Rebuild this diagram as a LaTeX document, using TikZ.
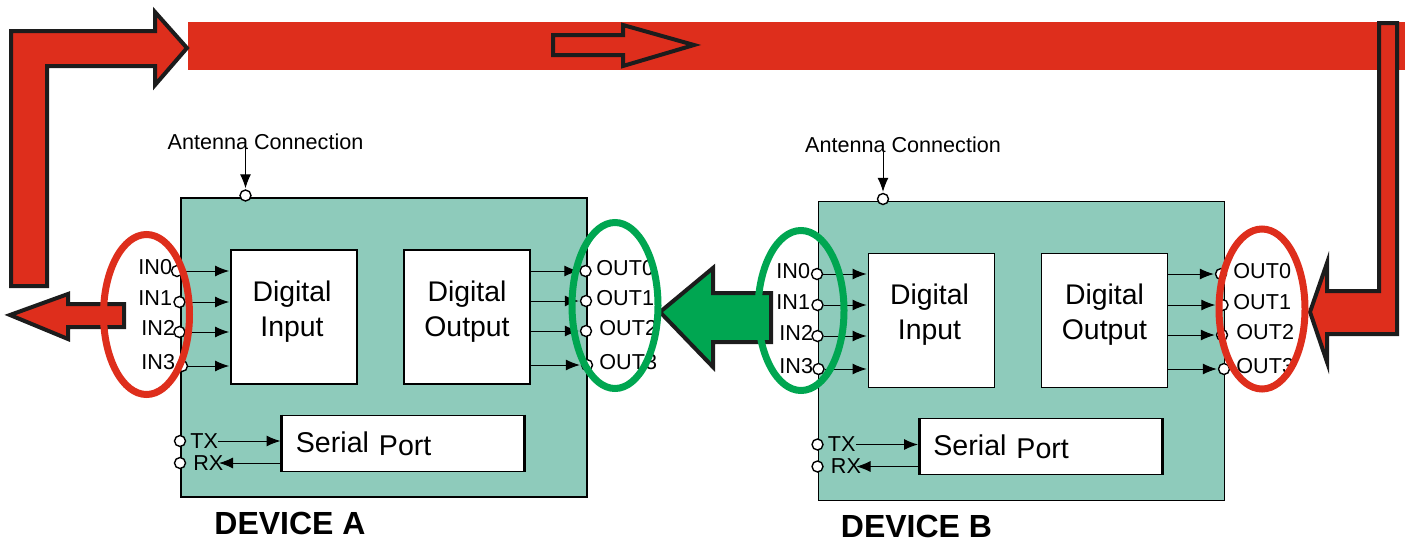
\documentclass[tikz,border=0pt]{standalone}
\usepackage{fontspec}
\setmainfont{Liberation Sans}
\usetikzlibrary{arrows.meta,positioning,shapes.geometric}
\definecolor{LinkRed}{RGB}{222,46,28}
\definecolor{LinkGreen}{RGB}{0,166,81}
\definecolor{BoardTeal}{RGB}{142,203,187}
\definecolor{EdgeBlack}{RGB}{28,28,28}
\tikzset{
    board/.style={draw=black, fill=BoardTeal, line width=0.9pt, minimum width=203pt, minimum height=149.5pt, inner sep=0pt},
    block/.style={draw=black, fill=white, line width=0.9pt, minimum width=63pt, minimum height=67pt, inner sep=0pt},
    blocktext/.style={align=center, font=\fontsize{14.2}{17.5}\selectfont, inner sep=0pt},
    serialbox/.style={draw=black, fill=white, line width=0.5pt, minimum width=121pt, minimum height=28pt, inner sep=0pt},
    pin/.style={circle, draw=black, fill=white, line width=0.7pt, minimum size=5.5pt, inner sep=0pt},
    pinlabel/.style={font=\fontsize{10.8}{13}\selectfont, inner sep=0pt},
    sig/.style={-{Latex[length=7pt,width=5.5pt]}, line width=0.5pt, shorten >=0.5pt},
    loop/.style={ellipse, draw, line width=3.5pt, minimum width=43pt, minimum height=80pt, inner sep=0pt},
    bigarrow/.style={draw=EdgeBlack, line width=2pt, line join=miter, miter limit=10}
}
\begin{document}
\begin{tikzpicture}[x=0.5pt, y=-0.5pt]
    \useasboundingbox (0,0) rectangle (1408,541);

    % Band
    \fill[LinkRed] (188,22) rectangle (1405,70);
    \draw[bigarrow, fill=LinkRed] (553,35) -- (623,35) -- (623,25) -- (694,45) -- (623,66) -- (623,55) -- (553,55) -- cycle;

    % Red arrows
    \draw[bigarrow, fill=LinkRed] (11,31) -- (155,31) -- (155,12) -- (187,48) -- (155,85) -- (155,66) -- (47,66) -- (47,286) -- (11,286) -- cycle;
    \draw[bigarrow, fill=LinkRed] (10,315) -- (68,294) -- (68,304) -- (124,304) -- (124,327) -- (68,327) -- (68,339) -- cycle;

    % Devices
    \foreach \dev/\dx/\dy/\nameshift in {A/0/0/0, B/637.5/3.5/-11} {
        \begin{scope}[shift={(\dx,\dy)}]
            \node[board] (\dev board) at (384,347.5) {};
            \node[block] (\dev input) at (294,317) {};
            \node[block] (\dev output) at (467,317) {};
            \node[blocktext] (\dev inputtext) at (292,311.5) {Digital\\Input};
            \node[blocktext] (\dev outputtext) at (467,311.5) {Digital\\Output};
            \node[serialbox] (\dev serial) at (403,443) {};
            \draw[line width=1.5pt] (\dev serial.north west) -- (\dev serial.south west);
            \draw[line width=1.5pt] (\dev serial.north east) -- (\dev serial.south east);
            \node[font=\fontsize{14.3}{16}\selectfont, anchor=west, inner sep=0pt] (\dev serialtext) at (295.5,443.5) {Serial\hspace{1pt} \raisebox{-1.5pt}{Port}};
            \node[font=\bfseries\fontsize{16}{18}\selectfont, anchor=west, inner sep=0pt] (\dev name) at (214+\nameshift,523) {DEVICE \dev};

            % Antenna
            \node[pinlabel] (\dev ant) at (265.5,141.5) {Antenna Connection};
            \node[pin] (\dev antpin) at (245.5,195.5) {};
            \coordinate (\dev anttop) at (245.5,148);
            \draw[sig] (\dev anttop) -- (\dev antpin);

            % Serial lines
            \node[pin] (\dev txpin) at (180,441) {};
            \node[pin] (\dev rxpin) at (180,463) {};
            \node[pinlabel, anchor=west] (\dev tx) at (190,441) {TX};
            \node[pinlabel, anchor=west] (\dev rx) at (193,463) {RX};
            \coordinate (\dev rxend) at (218,463);
            \draw[sig] (\dev tx) -- (\dev serial.west |- \dev tx);
            \draw[sig] (\dev serial.west |- \dev rxend) -- (\dev rxend);
        \end{scope}
    }

    % Pins, device A
    \foreach \n/\x/\y/\lx in {0/177/271/138, 1/179.5/302/138, 2/179.5/332/141, 3/182/366/141} {
        \node[pin] (Ain\n pin) at (\x,\y) {};
        \node[pinlabel, anchor=west] (Ain\n) at (\lx,\y-4) {IN\n};
        \draw[sig] (Ain\n pin) -- (Ainput.west |- Ain\n pin);
    }
    \foreach \n/\x/\y/\lx in {0/585.5/271/596, 1/586/301/596, 2/586/331/599, 3/587/365/599} {
        \node[pin] (Aout\n pin) at (\x,\y) {};
        \node[pinlabel, anchor=west] (Aout\n) at (\lx,\y-3) {OUT\n};
        \draw[sig] (Aoutput.east |- Aout\n pin) -- (Aout\n pin);
    }

    % Pins, device B
    \foreach \n/\x/\y/\lx in {0/817/274/776, 1/817.5/305/776, 2/817.5/336/779, 3/818.5/369/779} {
        \node[pin] (Bin\n pin) at (\x,\y) {};
        \node[pinlabel, anchor=west] (Bin\n) at (\lx,\y-3) {IN\n};
        \draw[sig] (Bin\n pin) -- (Binput.west |- Bin\n pin);
    }
    \foreach \n/\x/\y/\lx in {0/1221/274/1233, 1/1222.5/305/1233, 2/1222/335/1236, 3/1224/369/1236} {
        \node[pin] (Bout\n pin) at (\x,\y) {};
        \node[pinlabel, anchor=west] (Bout\n) at (\lx,\y-3) {OUT\n};
        \draw[sig] (Boutput.east |- Bout\n pin) -- (Bout\n pin);
    }

    % Return path
    \draw[bigarrow, fill=LinkRed] (1379,23) -- (1397,23) -- (1397,334) -- (1327,334) -- (1327,362) -- (1310,312) -- (1327,263) -- (1327,291) -- (1379,291) -- cycle;
    \draw[bigarrow, fill=LinkGreen] (771,293) -- (771,342) -- (713,342) -- (713,367) -- (660,312) -- (713,268) -- (713,293) -- cycle;

    % Ovals
    \node[loop, draw=LinkRed] (Aloop) at (146.5,314.5) {};
    \node[loop, draw=LinkGreen, minimum height=83pt] (Agreen) at (615,305.5) {};
    \node[loop, draw=LinkGreen] (Bgreen) at (801,310.5) {};
    \node[loop, draw=LinkRed] (Bloop) at (1262,309) {};
\end{tikzpicture}
\end{document}
